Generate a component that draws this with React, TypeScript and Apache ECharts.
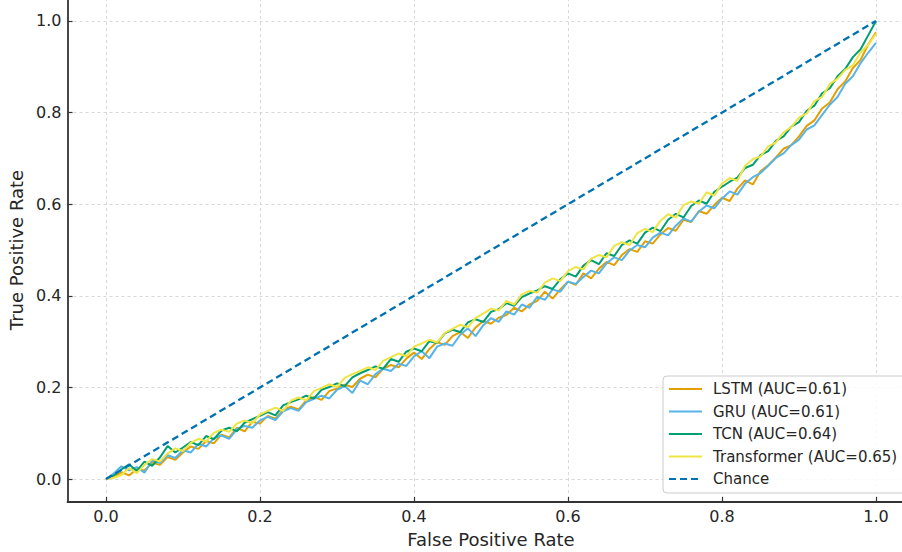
import React, { useEffect, useRef } from "react";
import * as echarts from "echarts";

const fpr = [
  0.0, 0.01, 0.02, 0.03, 0.04, 0.05, 0.06, 0.07, 0.08, 0.09,
  0.1, 0.11, 0.12, 0.13, 0.14, 0.15, 0.16, 0.17, 0.18, 0.19,
  0.2, 0.21, 0.22, 0.23, 0.24, 0.25, 0.26, 0.27, 0.28, 0.29,
  0.3, 0.31, 0.32, 0.33, 0.34, 0.35, 0.36, 0.37, 0.38, 0.39,
  0.4, 0.41, 0.42, 0.43, 0.44, 0.45, 0.46, 0.47, 0.48, 0.49,
  0.5, 0.51, 0.52, 0.53, 0.54, 0.55, 0.56, 0.57, 0.58, 0.59,
  0.6, 0.61, 0.62, 0.63, 0.64, 0.65, 0.66, 0.67, 0.68, 0.69,
  0.7, 0.71, 0.72, 0.73, 0.74, 0.75, 0.76, 0.77, 0.78, 0.79,
  0.8, 0.81, 0.82, 0.83, 0.84, 0.85, 0.86, 0.87, 0.88, 0.89,
  0.9, 0.91, 0.92, 0.93, 0.94, 0.95, 0.96, 0.97, 0.98, 0.99, 1.0,
];

const tprLSTM = [
  0, 0.004, 0.015, 0.008, 0.022, 0.019, 0.036, 0.031, 0.048, 0.042,
  0.058, 0.071, 0.066, 0.083, 0.078, 0.097, 0.091, 0.112, 0.104, 0.125,
  0.121, 0.138, 0.132, 0.151, 0.158, 0.152, 0.171, 0.179, 0.173, 0.192,
  0.198, 0.206, 0.201, 0.219, 0.228, 0.222, 0.241, 0.249, 0.244, 0.263,
  0.276, 0.262, 0.284, 0.299, 0.293, 0.312, 0.321, 0.308, 0.331, 0.345,
  0.339, 0.352, 0.358, 0.374, 0.366, 0.381, 0.389, 0.409, 0.394, 0.414,
  0.431, 0.424, 0.449, 0.438, 0.459, 0.474, 0.467, 0.489, 0.502, 0.496,
  0.519, 0.514, 0.534, 0.548, 0.542, 0.566, 0.561, 0.585, 0.579, 0.598,
  0.614, 0.607, 0.634, 0.652, 0.643, 0.672, 0.685, 0.702, 0.721, 0.729,
  0.748, 0.771, 0.783, 0.809, 0.822, 0.851, 0.868, 0.897, 0.915, 0.949, 0.975,
];

const tprGRU = [
  0, 0.012, 0.028, 0.019, 0.026, 0.014, 0.041, 0.035, 0.052, 0.046,
  0.063, 0.058, 0.077, 0.071, 0.089, 0.095, 0.088, 0.109, 0.116, 0.112,
  0.128, 0.136, 0.129, 0.148, 0.155, 0.149, 0.168, 0.175, 0.182, 0.176,
  0.195, 0.203, 0.188, 0.215, 0.207, 0.229, 0.241, 0.236, 0.252, 0.247,
  0.268, 0.279, 0.264, 0.289, 0.296, 0.291, 0.315, 0.329, 0.312, 0.336,
  0.351, 0.343, 0.366, 0.359, 0.381, 0.374, 0.398, 0.391, 0.414, 0.409,
  0.431, 0.426, 0.441, 0.455, 0.449, 0.471, 0.484, 0.478, 0.499, 0.511,
  0.506, 0.527, 0.538, 0.532, 0.553, 0.569, 0.562, 0.584, 0.597, 0.591,
  0.612, 0.628, 0.621, 0.645, 0.659, 0.668, 0.684, 0.701, 0.711, 0.729,
  0.741, 0.763, 0.772, 0.795, 0.817, 0.834, 0.863, 0.879, 0.908, 0.931, 0.952,
];

const tprTCN = [
  0, 0.008, 0.021, 0.032, 0.018, 0.038, 0.029, 0.047, 0.072, 0.058,
  0.069, 0.081, 0.074, 0.094, 0.087, 0.106, 0.112, 0.104, 0.123, 0.131,
  0.138, 0.146, 0.139, 0.161, 0.168, 0.174, 0.182, 0.176, 0.195, 0.201,
  0.209, 0.203, 0.222, 0.231, 0.238, 0.246, 0.241, 0.262, 0.256, 0.278,
  0.285, 0.279, 0.301, 0.297, 0.318, 0.326, 0.321, 0.342, 0.349, 0.343,
  0.365, 0.371, 0.384, 0.378, 0.397, 0.405, 0.412, 0.421, 0.415, 0.436,
  0.449, 0.442, 0.466, 0.478, 0.469, 0.493, 0.487, 0.511, 0.521, 0.514,
  0.538, 0.549, 0.541, 0.566, 0.579, 0.571, 0.596, 0.608, 0.601, 0.627,
  0.638, 0.649, 0.658, 0.679, 0.686, 0.707, 0.716, 0.738, 0.748, 0.769,
  0.779, 0.804, 0.815, 0.842, 0.853, 0.879, 0.895, 0.921, 0.938, 0.969, 1.0,
];

const tprTransformer = [
  0, 0.003, 0.009, 0.024, 0.013, 0.031, 0.044, 0.038, 0.056, 0.067,
  0.061, 0.079, 0.088, 0.082, 0.101, 0.108, 0.103, 0.121, 0.128, 0.122,
  0.141, 0.149, 0.156, 0.149, 0.171, 0.178, 0.172, 0.192, 0.199, 0.207,
  0.201, 0.221, 0.229, 0.236, 0.244, 0.238, 0.258, 0.266, 0.274, 0.268,
  0.289, 0.296, 0.304, 0.298, 0.319, 0.328, 0.337, 0.331, 0.352, 0.361,
  0.372, 0.368, 0.389, 0.381, 0.403, 0.411, 0.407, 0.429, 0.438, 0.432,
  0.454, 0.463, 0.458, 0.481, 0.489, 0.484, 0.509, 0.517, 0.511, 0.537,
  0.546, 0.539, 0.564, 0.578, 0.571, 0.598, 0.606, 0.601, 0.626, 0.619,
  0.645, 0.657, 0.651, 0.684, 0.698, 0.704, 0.726, 0.735, 0.757, 0.768,
  0.789, 0.798, 0.825, 0.834, 0.862, 0.874, 0.893, 0.903, 0.931, 0.948, 0.972,
];

const chanceX = [0, 1];
const chanceY = [0, 1];

const tickValues = [0, 0.2, 0.4, 0.6, 0.8, 1.0];

const seriesNames = [
  "LSTM (AUC=0.61)",
  "GRU (AUC=0.61)",
  "TCN (AUC=0.64)",
  "Transformer (AUC=0.65)",
  "Chance",
];
const seriesColors = ["#E69F00", "#56B4E9", "#009E73", "#F0E442", "#0072B2"];

const FONT = "DejaVu Sans";

export default function App() {
  const ref = useRef<HTMLDivElement>(null);
  useEffect(() => {
    if (!ref.current) return;
    const chart = echarts.init(ref.current, null, { renderer: "svg" });
    const curves = [tprLSTM, tprGRU, tprTCN, tprTransformer];
    const series: any[] = curves.map((ys, i) => ({
      name: seriesNames[i],
      type: "line",
      data: fpr.map((x, j) => [x, ys[j]]),
      showSymbol: false,
      symbol: "none",
      lineStyle: { color: seriesColors[i], width: 2 },
      itemStyle: { color: seriesColors[i] },
      z: 2 + i,
    }));
    series.push({
      name: seriesNames[4],
      type: "line",
      data: chanceX.map((x, j) => [x, chanceY[j]]),
      showSymbol: false,
      symbol: "none",
      lineStyle: { color: seriesColors[4], width: 2.3, type: [7, 4] },
      itemStyle: { color: seriesColors[4] },
      z: 10,
    });
    const axisCommon = {
      type: "value",
      min: -0.05,
      max: 1.05,
      axisLine: { show: true, onZero: false, lineStyle: { color: "#333", width: 1.8 } },
      axisTick: {
        show: true,
        inside: true,
        length: 5,
        customValues: tickValues,
        lineStyle: { color: "#333", width: 1.2 },
      },
      axisLabel: {
        customValues: tickValues,
        formatter: (v: number) => v.toFixed(1),
        color: "#262626",
        fontFamily: FONT,
        fontSize: 16,
        margin: 6,
      },
      splitLine: {
        show: true,
        lineStyle: { color: "#d4d4d4", width: 0.9, type: [3, 3] },
      },
      nameLocation: "middle",
      nameTextStyle: { color: "#262626", fontFamily: FONT, fontSize: 18 },
    };
    chart.setOption({
      animation: false,
      backgroundColor: "#ffffff",
      grid: {
        left: 67.5,
        top: -2,
        width: 847,
        height: 504,
        containLabel: false,
        outerBoundsMode: "none",
      },
      xAxis: { ...axisCommon, name: "False Positive Rate", nameGap: 28 },
      yAxis: { ...axisCommon, name: "True Positive Rate", nameGap: 42 },
      legend: {
        orient: "vertical",
        left: 663,
        top: 376,
        data: seriesNames,
        itemWidth: 33,
        itemHeight: 14,
        itemGap: 6.5,
        padding: [5, 12, 6, 5],
        backgroundColor: "rgba(255,255,255,0.85)",
        borderColor: "#cccccc",
        borderWidth: 1,
        borderRadius: 4,
        itemStyle: { opacity: 0 },
        textStyle: {
          color: "#262626",
          fontFamily: FONT,
          fontSize: 15,
          lineHeight: 16,
          padding: [0, 0, 0, 6],
        },
      },
      series,
    });
    return () => chart.dispose();
  }, []);
  return (
    <div
      ref={ref}
      style={{ position: "absolute", left: 0, top: 0, width: 902, height: 552 }}
    />
  );
}
